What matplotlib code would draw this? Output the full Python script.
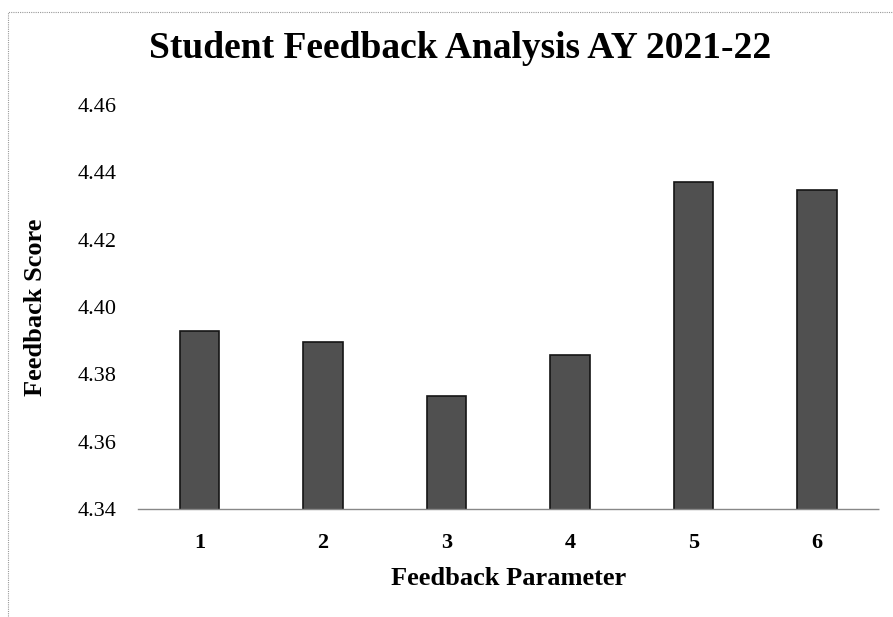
import matplotlib.pyplot as plt
from matplotlib.patches import Rectangle

# data
params = ['1', '2', '3', '4', '5', '6']
scores = [4.393, 4.3895, 4.3735, 4.3857, 4.437, 4.4347]
yticks = [4.34, 4.36, 4.38, 4.40, 4.42, 4.44, 4.46]

plt.rcParams['font.family'] = ['Liberation Serif', 'DejaVu Serif']

fig = plt.figure(figsize=(8.93, 6.17), dpi=100)
ax = fig.add_axes([0.1545, 0.175, 0.8295, 0.6548])

x = range(len(params))
ax.bar(x, scores, width=0.32, color='#505050', edgecolor='#151515', linewidth=1.2)

ax.set_xlim(-0.5, 5.5)
ax.set_ylim(4.34, 4.46)
ax.set_xticks(list(x))
ax.set_xticklabels(params, fontsize=16, fontweight='bold')
ax.set_yticks(yticks)
ax.set_yticklabels(['%.2f' % v for v in yticks], fontsize=16)
ax.tick_params(length=0)
ax.tick_params(axis='x', pad=17)
ax.tick_params(axis='y', pad=15.5)

for s in ['top', 'right', 'left']:
    ax.spines[s].set_visible(False)
ax.spines['bottom'].set_color('#888888')
ax.spines['bottom'].set_linestyle((0, (1, 1)))
ax.spines['bottom'].set_linewidth(1.0)

ax.set_xlabel('Feedback Parameter', fontsize=19, fontweight='bold', labelpad=10)
ax.set_ylabel('Feedback Score', fontsize=19, fontweight='bold', labelpad=22)

fig.text(0.515, 0.922, 'Student Feedback Analysis AY 2021-22',
         fontsize=27, fontweight='bold', ha='center', va='center')

# chart border (dotted, as in the scan)
top = 1 - 12 / 617
fig.patches.append(Rectangle((8 / 893, -0.05), 1.2, top + 0.05, transform=fig.transFigure,
                             fill=False, edgecolor='#999999', linewidth=0.8,
                             linestyle=(0, (1, 1))))

fig.savefig('out.png', dpi=100)
